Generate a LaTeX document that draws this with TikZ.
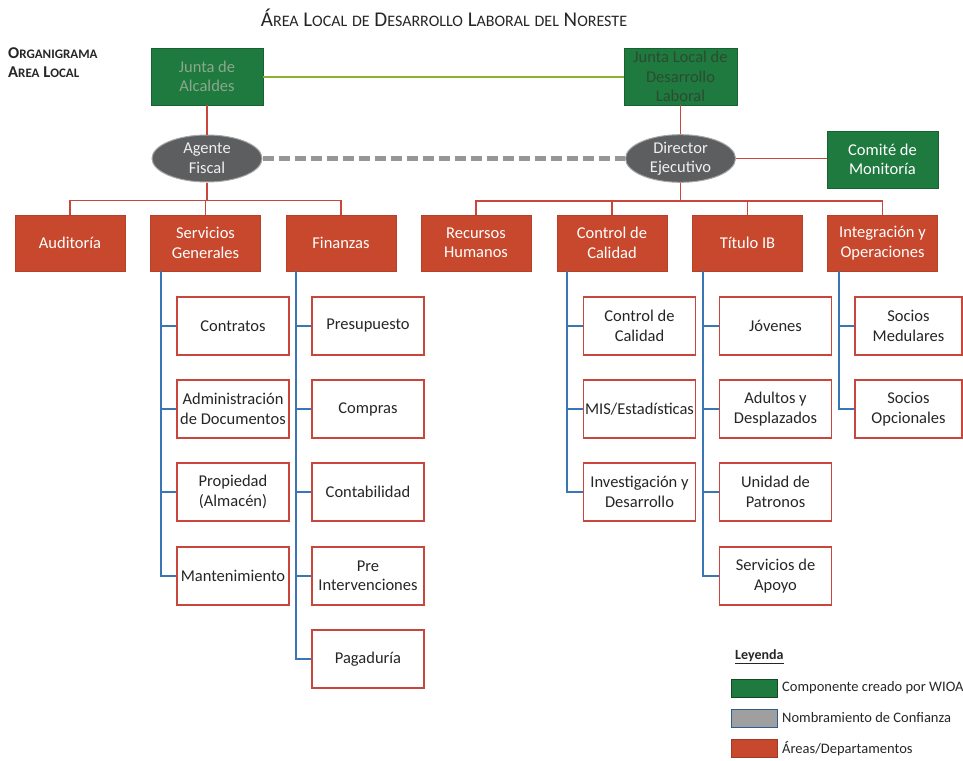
\documentclass[tikz,border=0pt]{standalone}
\usepackage{fontspec}
\setmainfont{Carlito}
\usetikzlibrary{shapes.geometric}
\definecolor{wgreen}{RGB}{30,122,62}
\definecolor{wred}{RGB}{200,72,45}
\definecolor{wredline}{RGB}{200,70,60}
\definecolor{wgray}{RGB}{92,94,96}
\definecolor{wblue}{RGB}{58,118,180}
\definecolor{wlime}{RGB}{140,176,50}
\definecolor{wdash}{RGB}{150,150,150}
\newcommand\smc[1]{{\fontsize{16}{18}\selectfont #1}}
\newcommand\smcb[1]{{\fontsize{13}{15}\selectfont #1}}
\tikzset{
  boxtext/.style={font=\fontsize{16.5}{19.5}\selectfont, align=center, inner sep=0pt},
  greenbox/.style={boxtext, rectangle, fill=wgreen, draw=wgreen!80!black, line width=0.8pt},
  mgrbox/.style={boxtext, ellipse, fill=wgray, draw=gray!70, line width=1pt, text=white!94!black, minimum width=110pt, minimum height=47pt},
  deptbox/.style={boxtext, rectangle, fill=wred, draw=wred!90!black, line width=0.8pt, text=white, minimum width=110pt, minimum height=56pt},
  subbox/.style={boxtext, rectangle, fill=white, draw=wredline, line width=1.6pt, text=black!85, minimum width=112pt, minimum height=58pt},
  redline/.style={draw=wredline, line width=1.6pt},
  blueline/.style={draw=wblue, line width=1.6pt},
  limeline/.style={draw=wlime, line width=2pt},
  dashline/.style={draw=wdash, line width=5pt, dash pattern=on 11pt off 5pt},
  legsw/.style={rectangle, minimum width=46pt, minimum height=18pt, inner sep=0pt, line width=1pt},
  legtext/.style={font=\fontsize{14.5}{17}\selectfont, anchor=west, inner sep=0pt, text=black!85}
}
\begin{document}
\begin{tikzpicture}[x=1pt,y=-1pt]
\useasboundingbox (0,0) rectangle (963,760);
% title
\node[inner sep=0pt, text=black!85] (title) at (444,18) {\fontsize{21}{23}\selectfont Á\smc{REA} L\smc{OCAL} \smc{DE} D\smc{ESARROLLO} L\smc{ABORAL} \smc{DEL} N\smc{ORESTE}};
\node[anchor=west, inner sep=0pt, text=black!85, font=\bfseries] (org) at (8,53) {\fontsize{16.5}{18}\selectfont O\smcb{RGANIGRAMA}};
\node[anchor=west, inner sep=0pt, text=black!85, font=\bfseries] (area) at (8,72) {\fontsize{16.5}{18}\selectfont A\smcb{REA} L\smcb{OCAL}};
% top
\node[greenbox, minimum width=112pt, minimum height=57pt, text={rgb,255:red,140;green,168;blue,140}] (JA) at (207,76.5) {Junta de\\Alcaldes};
\node[greenbox, minimum width=113pt, minimum height=57pt, text={rgb,255:red,45;green,75;blue,50}] (JL) at (680.5,76.5) {Junta Local de\\Desarrollo\\Laboral};
\node[mgrbox] (AF) at (207,158.5) {Agente\\Fiscal};
\node[mgrbox] (DE) at (680.5,158.5) {Director\\Ejecutivo};
\node[greenbox, minimum width=111pt, minimum height=57pt, text=white] (CM) at (882.5,159.5) {Comité de\\Monitoría};
\draw[limeline] (JA.east) -- (JL.west);
\draw[redline] (JA.south) -- (AF.north);
\draw[redline] (JL.south) -- (DE.north);
\draw[dashline] (AF.east) -- (DE.west);
\draw[redline] (DE.east) -- (DE.east -| CM.west);
% departments
\node[deptbox] (AUD) at (70,243) {Auditoría};
\node[deptbox] (SG) at (205.5,243) {Servicios\\Generales};
\node[deptbox] (FIN) at (341,243) {Finanzas};
\node[deptbox] (RH) at (476,243) {Recursos\\Humanos};
\node[deptbox] (CC) at (612,243) {Control de\\Calidad};
\node[deptbox] (TIB) at (747.5,243) {Título IB};
\node[deptbox] (IO) at (882.5,243) {Integración y\\Operaciones};
\foreach \c in {AUD,SG,FIN} \draw[redline] (AF.south) -- ++(0,18) -| (\c.north);
\foreach \c in {RH,CC,TIB,IO} \draw[redline] (DE.south) -- ++(0,18) -| (\c.north);
% Servicios Generales
\node[subbox] (s1) at (233,326) {Contratos};
\node[subbox] (s2) at (233,409) {Administración\\de Documentos};
\node[subbox] (s3) at (233,492) {Propiedad\\(Almacén)};
\node[subbox] (s4) at (233,576) {Mantenimiento};
\foreach \c in {s1,s2,s3,s4} \draw[blueline] ([xshift=-44.5pt]SG.south) |- (\c.west);
% Finanzas
\node[subbox] (f1) at (368,326) {Presupuesto};
\node[subbox] (f2) at (368,409) {Compras};
\node[subbox] (f3) at (368,492) {Contabilidad};
\node[subbox] (f4) at (368,576) {Pre\\Intervenciones};
\node[subbox] (f5) at (368,659) {Pagaduría};
\foreach \c in {f1,f2,f3,f4,f5} \draw[blueline] ([xshift=-45pt]FIN.south) |- (\c.west);
% Control de Calidad
\node[subbox] (c1) at (639.5,326) {Control de\\Calidad};
\node[subbox] (c2) at (639.5,409) {MIS/Estadísticas};
\node[subbox] (c3) at (639.5,492) {Investigación y\\Desarrollo};
\foreach \c in {c1,c2,c3} \draw[blueline] ([xshift=-45pt]CC.south) |- (\c.west);
% Titulo IB
\node[subbox] (t1) at (775.5,326) {Jóvenes};
\node[subbox] (t2) at (775.5,409) {Adultos y\\Desplazados};
\node[subbox] (t3) at (775.5,492) {Unidad de\\Patronos};
\node[subbox] (t4) at (775.5,576) {Servicios de\\Apoyo};
\foreach \c in {t1,t2,t3,t4} \draw[blueline] ([xshift=-44.5pt]TIB.south) |- (\c.west);
% Integracion
\node[subbox, minimum width=107pt] (i1) at (908.5,326) {Socios\\Medulares};
\node[subbox, minimum width=107pt] (i2) at (908.5,409) {Socios\\Opcionales};
\foreach \c in {i1,i2} \draw[blueline] ([xshift=-43.5pt]IO.south) |- (\c.west);
% legend
\node[anchor=west, inner sep=0pt, text=black!85] (ley) at (735,657) {\fontsize{14}{16}\selectfont\bfseries\underline{Leyenda}};
\node[legsw, fill=wgreen, draw=wgreen!60!black] (lg) at (754,688) {};
\node[legsw, fill=gray!75, draw=wblue!80!black] (lb) at (754,718) {};
\node[legsw, fill=wred, draw=wred!80!black] (lr) at (754,748.5) {};
\node[legtext] (lgt) at (782,688) {Componente creado por WIOA};
\node[legtext] (lbt) at (782,718) {Nombramiento de Confianza};
\node[legtext] (lrt) at (782,748.5) {Áreas/Departamentos};
\end{tikzpicture}
\end{document}
